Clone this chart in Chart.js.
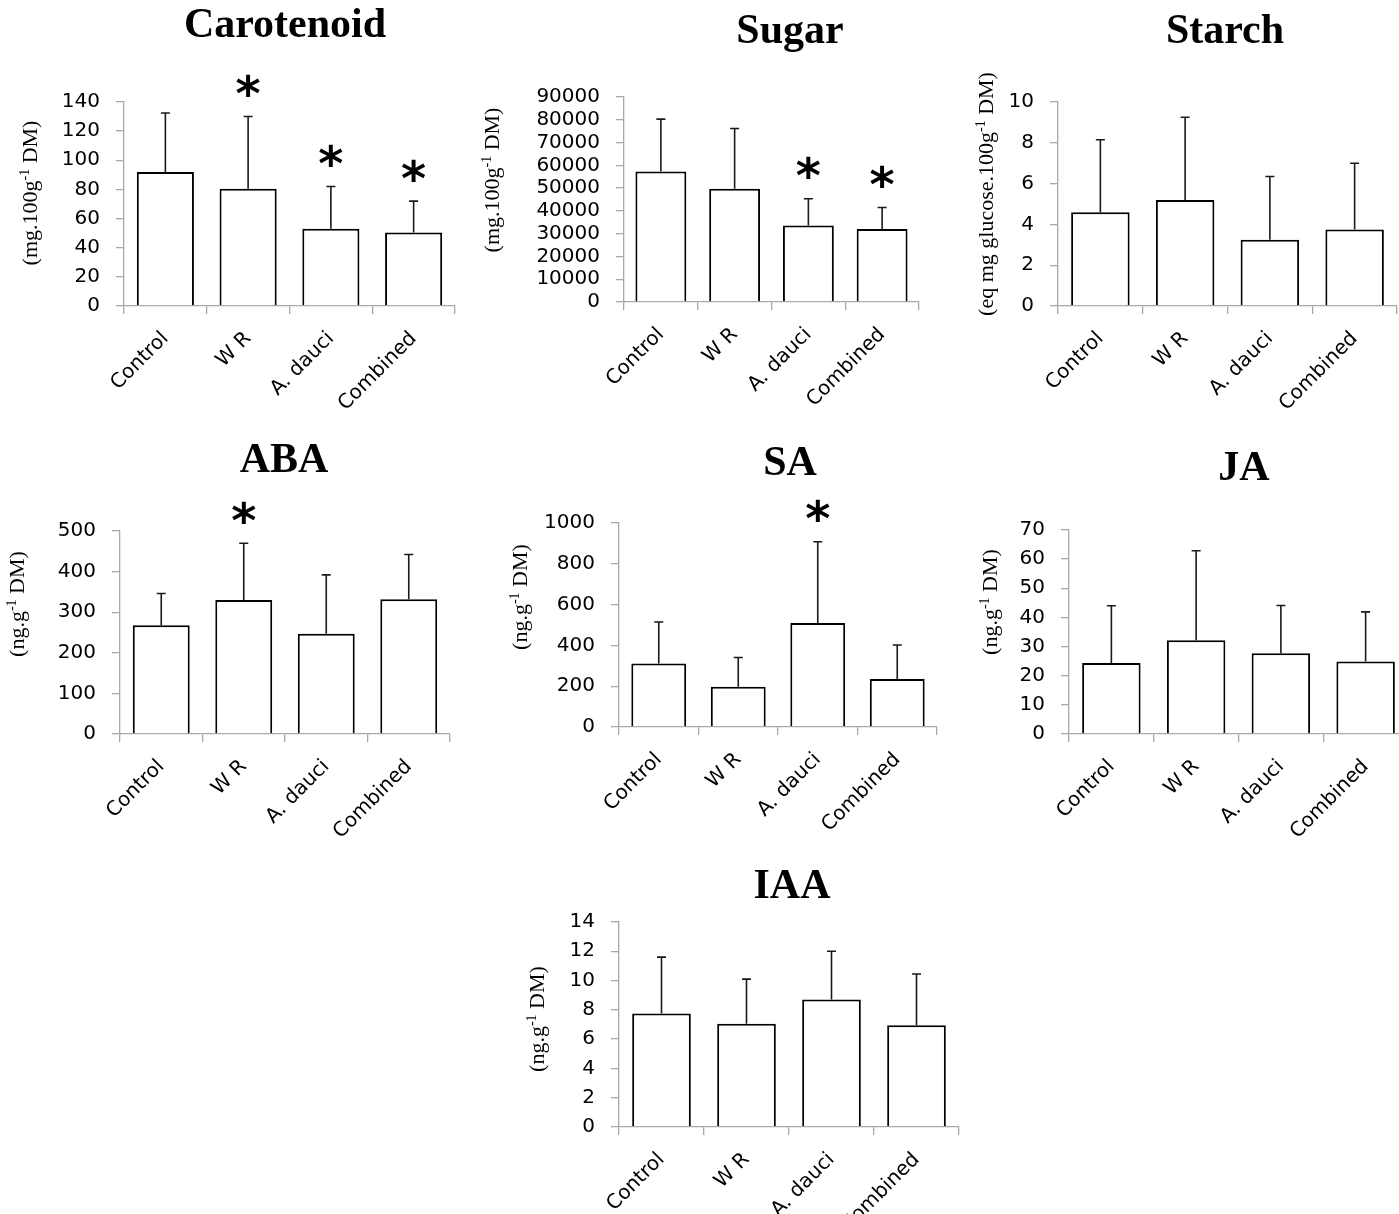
<!DOCTYPE html>
<html>
<head>
<meta charset="utf-8">
<script src="https://cdn.jsdelivr.net/npm/chart.js@4.4.1/dist/chart.umd.min.js"></script>
<style>
  html, body { margin: 0; padding: 0; background: #ffffff; }
  #page { position: relative; width: 1399px; height: 1214px; overflow: hidden; background: #ffffff; }
  #page canvas { position: absolute; }
</style>
</head>
<body>
<div id="page"></div>
<script>
// Treatments shown on every panel
const categories = ['Control', 'W R', 'A. dauci', 'Combined'];

// Carotenoid (mg.100g-1 DM)
const carotenoidMean = [92, 80.5, 53, 50.5];
const carotenoidSD = [40.5, 49.5, 29, 21.5];
const carotenoidStars = [false, true, true, true];
const carotenoidTicks = [0, 20, 40, 60, 80, 100, 120, 140];

// Sugar (mg.100g-1 DM)
const sugarMean = [57300, 49700, 33600, 32000];
const sugarSD = [23000, 26500, 11700, 9500];
const sugarStars = [false, false, true, true];
const sugarTicks = [0, 10000, 20000, 30000, 40000, 50000, 60000, 70000, 80000, 90000];

// Starch (eq mg glucose.100g-1 DM)
const starchMean = [4.6, 5.2, 3.25, 3.75];
const starchSD = [3.55, 4.05, 3.1, 3.25];
const starchStars = [false, false, false, false];
const starchTicks = [0, 2, 4, 6, 8, 10];

// ABA (ng.g-1 DM)
const abaMean = [268, 330, 247, 332];
const abaSD = [78, 140, 145, 110];
const abaStars = [false, true, false, false];
const abaTicks = [0, 100, 200, 300, 400, 500];

// SA (ng.g-1 DM)
const saMean = [311, 197, 510, 235];
const saSD = [204, 144, 398, 167];
const saStars = [false, false, true, false];
const saTicks = [0, 200, 400, 600, 800, 1000];

// JA (ng.g-1 DM)
const jaMean = [24.4, 32.2, 27.7, 24.9];
const jaSD = [19.6, 30.7, 16.4, 17.0];
const jaStars = [false, false, false, false];
const jaTicks = [0, 10, 20, 30, 40, 50, 60, 70];

// IAA (ng.g-1 DM)
const iaaMean = [7.75, 7.05, 8.7, 6.95];
const iaaSD = [3.85, 3.05, 3.3, 3.5];
const iaaStars = [false, false, false, false];
const iaaTicks = [0, 2, 4, 6, 8, 10, 12, 14];

// Axis titles (main text, superscript, rest)
const unitMg100 = ['(mg.100g', '-1', ' DM)'];
const unitStarch = ['(eq mg glucose.100g', '-1', ' DM)'];
const unitNg = ['(ng.g', '-1', ' DM)'];

// Page layout of each panel: plot area box, title anchor, axis-title anchor
const panels = [
  { title: 'Carotenoid', unit: unitMg100, mean: carotenoidMean, sd: carotenoidSD, stars: carotenoidStars, ticks: carotenoidTicks,
    box: { xL: 124, xR: 455, yT: 102, yB: 306 }, titleAt: [285, 37], unitAt: [31, 193] },
  { title: 'Sugar', unit: unitMg100, mean: sugarMean, sd: sugarSD, stars: sugarStars, ticks: sugarTicks,
    box: { xL: 624, xR: 919, yT: 97, yB: 302 }, titleAt: [790, 43], unitAt: [493, 180] },
  { title: 'Starch', unit: unitStarch, mean: starchMean, sd: starchSD, stars: starchStars, ticks: starchTicks,
    box: { xL: 1058, xR: 1397, yT: 102, yB: 306 }, titleAt: [1225, 43], unitAt: [987, 194] },
  { title: 'ABA', unit: unitNg, mean: abaMean, sd: abaSD, stars: abaStars, ticks: abaTicks,
    box: { xL: 120, xR: 450, yT: 531, yB: 734 }, titleAt: [284, 472], unitAt: [18, 604] },
  { title: 'SA', unit: unitNg, mean: saMean, sd: saSD, stars: saStars, ticks: saTicks,
    box: { xL: 619, xR: 937, yT: 523, yB: 727 }, titleAt: [790, 475], unitAt: [521, 597] },
  { title: 'JA', unit: unitNg, mean: jaMean, sd: jaSD, stars: jaStars, ticks: jaTicks,
    box: { xL: 1069, xR: 1408, yT: 530, yB: 734 }, titleAt: [1244, 480], unitAt: [991, 602] },
  { title: 'IAA', unit: unitNg, mean: iaaMean, sd: iaaSD, stars: iaaStars, ticks: iaaTicks,
    box: { xL: 619, xR: 959, yT: 922, yB: 1127 }, titleAt: [792, 898], unitAt: [538, 1019] }
];

const AXIS_GREY = '#a8a8a8';
const PAD_L = 160, PAD_R = 25, PAD_T = 105, PAD_B = 130;

// Upward error bars, significance asterisks, panel title and rotated unit label
const decorations = {
  id: 'decorations',
  afterDatasetsDraw(chart, args, opts) {
    const ctx = chart.ctx;
    const yScale = chart.scales.y;
    const meta = chart.getDatasetMeta(0);
    const p = opts.panel;
    ctx.save();
    meta.data.forEach((bar, i) => {
      const top = yScale.getPixelForValue(p.mean[i] + p.sd[i]);
      ctx.strokeStyle = '#1a1a1a';
      ctx.lineWidth = 1.6;
      ctx.beginPath();
      ctx.moveTo(bar.x, bar.y);
      ctx.lineTo(bar.x, top);
      ctx.moveTo(bar.x - 4.5, top);
      ctx.lineTo(bar.x + 4.5, top);
      ctx.stroke();
      if (p.stars[i]) {
        ctx.font = 'bold 48px "DejaVu Sans"';
        ctx.fillStyle = '#000';
        ctx.textAlign = 'center';
        ctx.textBaseline = 'alphabetic';
        const m = ctx.measureText('*');
        const mid = (m.actualBoundingBoxAscent - m.actualBoundingBoxDescent) / 2;
        ctx.fillText('*', bar.x, top - 31 + mid);
      }
    });
    ctx.restore();
  },
  afterDraw(chart, args, opts) {
    const ctx = chart.ctx;
    const p = opts.panel;
    const ox = opts.originX, oy = opts.originY;
    ctx.save();
    ctx.fillStyle = '#000';
    ctx.font = 'bold 42px "Liberation Serif"';
    ctx.textAlign = 'center';
    ctx.textBaseline = 'alphabetic';
    ctx.fillText(p.title, p.titleAt[0] - ox, p.titleAt[1] - oy);

    // rotated unit label with superscript
    ctx.translate(p.unitAt[0] - ox, p.unitAt[1] - oy);
    ctx.rotate(-Math.PI / 2);
    ctx.textAlign = 'left';
    ctx.textBaseline = 'middle';
    const mainFont = '22px "Liberation Serif"';
    const supFont = '14px "Liberation Serif"';
    ctx.font = mainFont;
    const w1 = ctx.measureText(p.unit[0]).width;
    const w3 = ctx.measureText(p.unit[2]).width;
    ctx.font = supFont;
    const w2 = ctx.measureText(p.unit[1]).width;
    let x = -(w1 + w2 + w3) / 2;
    ctx.font = mainFont;
    ctx.fillText(p.unit[0], x, 0);
    x += w1;
    ctx.font = supFont;
    ctx.fillText(p.unit[1], x, -6);
    x += w2;
    ctx.font = mainFont;
    ctx.fillText(p.unit[2], x, 0);
    ctx.restore();
  }
};

const page = document.getElementById('page');

panels.forEach(p => {
  const b = p.box;
  const left = b.xL - PAD_L;
  const top = b.yT - PAD_T;
  const width = (b.xR - b.xL) + PAD_L + PAD_R;
  const height = (b.yB - b.yT) + PAD_T + PAD_B;

  const canvas = document.createElement('canvas');
  canvas.width = width;
  canvas.height = height;
  canvas.style.left = left + 'px';
  canvas.style.top = top + 'px';
  canvas.style.width = width + 'px';
  canvas.style.height = height + 'px';
  page.appendChild(canvas);

  new Chart(canvas, {
    type: 'bar',
    data: {
      labels: categories,
      datasets: [{
        data: p.mean,
        backgroundColor: '#ffffff',
        borderColor: '#000000',
        borderWidth: 2,
        barPercentage: 0.69,
        categoryPercentage: 1.0
      }]
    },
    options: {
      responsive: false,
      animation: false,
      devicePixelRatio: 1,
      layout: { padding: { left: 0, right: PAD_R, top: PAD_T, bottom: 0 } },
      plugins: {
        legend: { display: false },
        tooltip: { enabled: false },
        decorations: { panel: p, originX: left, originY: top }
      },
      scales: {
        x: {
          grid: { display: true, offset: true, drawOnChartArea: false, drawTicks: true,
                  tickLength: 8, color: AXIS_GREY, lineWidth: 1.3 },
          border: { display: true, color: AXIS_GREY, width: 1.3 },
          ticks: { color: '#000', font: { family: 'DejaVu Sans', size: 20 },
                   minRotation: 45, maxRotation: 45, autoSkip: false, padding: 13 },
          afterFit: s => { s.height = PAD_B; }
        },
        y: {
          min: p.ticks[0],
          max: p.ticks[p.ticks.length - 1],
          grid: { display: true, drawOnChartArea: false, drawTicks: true,
                  tickLength: 8, color: AXIS_GREY, lineWidth: 1.3 },
          border: { display: true, color: AXIS_GREY, width: 1.3 },
          ticks: { color: '#000', font: { family: 'DejaVu Sans', size: 20 },
                   stepSize: p.ticks[1] - p.ticks[0], padding: 16, autoSkip: false,
                   callback: v => String(v) },
          afterFit: s => { s.width = PAD_L; }
        }
      }
    },
    plugins: [decorations]
  });
});
</script>
</body>
</html>
